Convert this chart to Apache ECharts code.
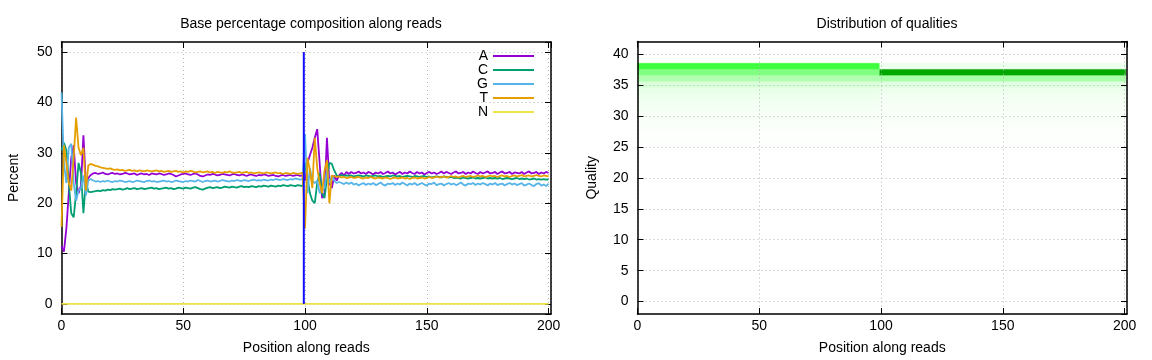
<!DOCTYPE html>
<html><head><meta charset="utf-8">
<script src="https://cdn.jsdelivr.net/npm/echarts@6/dist/echarts.min.js"></script>
<style>html,body{margin:0;padding:0;background:#fff}#c{width:1152px;height:360px}</style>
</head><body><div id="c"></div>
<script>
// ---------------- DATA ----------------
const baseNames = ['A', 'C', 'G', 'T', 'N'];
// percent per position 0..200
const pctA = [
 11.5,10.4,15.0,22.0,29.0,31.5,24.0,22.0,23.5,33.5,24.0,25.0,
 25.6,25.9,26.0,25.8,25.9,26.1,25.8,25.7,25.9,26.0,
 25.8,25.9,25.7,25.8,26.0,25.9,25.7,25.8,25.9,25.6,
 25.8,25.9,25.7,25.8,25.6,25.9,25.8,25.7,25.9,25.8,
 25.6,25.7,25.9,25.8,25.6,25.3,25.5,25.7,25.8,25.9,
 25.7,25.6,25.8,25.9,25.7,25.4,25.3,25.5,25.7,25.6,
 25.8,25.7,25.5,25.6,25.8,25.7,25.6,25.5,25.7,25.8,
 25.6,25.5,25.7,25.6,25.4,25.6,25.7,25.5,25.4,25.6,
 25.5,25.7,25.6,25.4,25.5,25.6,25.4,25.3,25.5,25.6,
 25.4,25.5,25.6,25.4,25.5,25.6,25.4,25.5,
 24.5,28.0,29.5,31.0,33.0,34.7,28.0,21.0,22.0,33.0,24.0,23.0,25.5,24.5,25.5,26.0,25.5,26.2,
 25.8,26.2,25.9,26.0,26.3,25.9,26.1,25.8,26.2,26.0,
 25.7,26.1,25.9,26.2,25.8,26.0,26.3,25.9,26.1,25.7,
 26.0,26.2,25.8,26.1,25.9,26.3,26.0,25.8,26.2,25.9,
 26.1,25.7,26.0,26.2,25.9,26.1,25.8,26.0,26.3,25.9,
 26.2,26.0,25.8,26.1,26.3,25.9,26.0,26.2,25.8,26.1,
 25.9,26.3,26.0,25.8,26.2,25.9,26.1,26.3,25.9,26.0,
 26.2,25.8,26.1,26.3,25.9,26.0,26.2,25.8,26.1,26.0,
 25.9,26.2,25.8,26.1,26.3,25.9,26.0,26.2,25.8,26.1,
 25.9,26.2,26.0
];
const pctC = [
 30.5,32.0,30.5,24.0,18.0,17.2,22.0,28.0,26.0,18.0,24.5,22.3,
 22.2,22.3,22.4,22.5,22.4,22.6,22.5,22.7,22.6,22.8,
 22.7,22.8,22.9,22.7,22.8,23.0,22.8,22.9,23.0,22.8,
 22.9,23.0,22.8,22.9,23.0,23.1,22.9,23.0,22.8,22.9,
 23.0,23.1,22.9,23.0,22.8,22.9,23.1,23.0,22.9,23.1,
 23.0,22.9,23.1,23.2,23.0,22.8,22.7,22.9,23.1,23.2,
 23.0,23.1,23.2,23.0,23.1,23.3,23.2,23.1,23.3,23.2,
 23.1,23.3,23.4,23.2,23.3,23.2,23.4,23.3,23.2,23.4,
 23.3,23.5,23.4,23.3,23.5,23.4,23.3,23.5,23.4,23.6,
 23.5,23.4,23.6,23.5,23.4,23.6,23.5,23.4,
 28.0,25.0,22.0,20.5,20.0,24.0,26.0,22.0,21.0,25.0,28.0,27.8,26.5,25.5,25.3,25.6,25.4,25.5,
 25.4,25.5,25.3,25.4,25.5,25.4,25.3,25.5,25.4,25.3,
 25.4,25.5,25.3,25.4,25.2,25.3,25.4,25.3,25.5,25.4,
 25.3,25.4,25.2,25.3,25.4,25.3,25.2,25.4,25.3,25.2,
 25.3,25.4,25.2,25.3,25.1,25.2,25.3,25.2,25.1,25.3,
 25.2,25.1,25.2,25.0,25.1,25.0,24.9,25.1,25.0,24.9,
 25.0,25.1,24.9,25.0,24.9,25.0,25.1,24.9,25.0,24.9,
 25.0,24.9,25.0,24.8,24.9,25.0,24.9,24.8,24.9,25.0,
 24.8,24.9,24.8,24.9,24.7,24.8,24.9,24.7,24.8,24.7,
 24.8,24.7,24.7
];
const pctG = [
 42.0,28.0,24.0,31.0,31.8,24.0,20.5,22.5,23.0,25.5,21.5,24.5,
 24.8,24.5,24.3,24.4,24.2,24.4,24.3,24.5,24.3,24.2,
 24.4,24.3,24.5,24.4,24.2,24.3,24.4,24.2,24.3,24.5,
 24.4,24.3,24.2,24.4,24.5,24.3,24.4,24.2,24.3,24.4,
 24.5,24.3,24.4,24.2,24.3,24.5,24.4,24.3,24.2,24.4,
 24.3,24.5,24.4,24.3,24.6,24.4,24.2,24.4,24.5,24.3,
 24.4,24.5,24.3,24.4,24.6,24.5,24.4,24.3,24.5,24.4,
 24.6,24.5,24.4,24.6,24.5,24.4,24.6,24.7,24.5,24.6,
 24.5,24.7,24.6,24.5,24.7,24.6,24.8,24.7,24.6,24.8,
 24.7,24.6,24.8,24.7,24.9,24.8,24.7,24.8,
 33.8,22.0,27.0,24.5,24.0,24.5,22.0,22.5,23.0,26.5,24.0,25.5,24.5,24.0,24.2,24.0,23.8,24.1,
 23.8,24.1,23.7,23.9,23.5,23.8,24.0,23.6,23.9,23.7,
 24.0,23.6,23.8,24.1,23.7,23.5,23.9,23.8,24.0,23.6,
 23.9,23.7,24.1,23.8,23.5,23.9,23.7,24.0,23.6,23.8,
 24.0,23.7,23.5,23.9,23.8,24.1,23.6,23.8,23.9,23.5,
 23.8,24.0,23.7,23.9,23.6,23.8,24.1,23.7,23.5,23.9,
 23.8,24.0,23.6,23.9,23.7,24.0,23.8,23.5,23.9,23.7,
 24.0,23.6,23.8,23.9,23.5,23.8,24.0,23.7,23.9,23.6,
 23.8,24.0,23.5,23.7,23.9,23.6,23.4,23.8,24.0,23.5,
 23.7,23.4,23.9
];
const pctT = [
 15.3,31.5,28.0,24.0,22.5,29.0,37.0,31.0,29.5,31.0,22.5,27.5,
 27.8,27.6,27.4,27.3,27.1,27.0,26.9,26.8,26.9,26.7,
 26.6,26.7,26.5,26.6,26.4,26.5,26.6,26.4,26.5,26.3,
 26.5,26.4,26.3,26.5,26.4,26.3,26.4,26.5,26.3,26.4,
 26.2,26.3,26.4,26.2,26.3,26.4,26.2,26.3,26.1,26.3,
 26.2,26.4,26.3,26.1,26.2,26.3,26.1,26.2,26.3,26.1,
 26.2,26.0,26.2,26.1,26.0,26.2,26.1,26.3,26.1,26.0,
 26.1,26.2,26.0,26.1,26.2,26.0,26.1,25.9,26.0,26.1,
 26.0,25.9,26.1,26.0,25.9,26.0,26.1,25.9,26.0,25.8,
 26.0,25.9,25.8,26.0,25.9,25.8,25.9,26.0,
 15.0,29.0,26.5,23.0,33.0,27.0,24.0,22.0,26.5,28.5,20.0,25.5,25.3,25.2,25.3,25.1,25.2,25.0,
 25.1,25.2,25.0,25.1,25.2,25.0,24.9,25.1,25.0,25.2,
 25.0,24.9,25.1,25.0,24.9,25.1,25.0,24.8,25.0,25.1,
 24.9,25.0,25.1,24.9,25.0,24.8,25.0,25.1,24.9,25.0,
 25.1,24.9,25.0,25.2,25.0,25.1,25.3,25.1,25.2,25.3,
 25.1,25.2,25.4,25.2,25.3,25.1,25.3,25.4,25.2,25.3,
 25.4,25.2,25.3,25.5,25.3,25.4,25.2,25.3,25.5,25.3,
 25.4,25.2,25.4,25.5,25.3,25.4,25.2,25.4,25.5,25.3,
 25.4,25.6,25.3,25.4,25.5,25.3,25.4,25.6,25.4,25.3,
 25.5,25.4,25.3
];
const pctN = [
 0,0,0,0,0,0,0,0,0,0,0,0,0,0,0,0,0,0,0,0,
 0,0,0,0,0,0,0,0,0,0,0,0,0,0,0,0,0,0,0,0,
 0,0,0,0,0,0,0,0,0,0,0,0,0,0,0,0,0,0,0,0,
 0,0,0,0,0,0,0,0,0,0,0,0,0,0,0,0,0,0,0,0,
 0,0,0,0,0,0,0,0,0,0,0,0,0,0,0,0,0,0,0,0,
 0,0,0,0,0,0,0,0,0,0,0,0,0,0,0,0,0,0,0,0,
 0,0,0,0,0,0,0,0,0,0,0,0,0,0,0,0,0,0,0,0,
 0,0,0,0,0,0,0,0,0,0,0,0,0,0,0,0,0,0,0,0,
 0,0,0,0,0,0,0,0,0,0,0,0,0,0,0,0,0,0,0,0,
 0,0,0,0,0,0,0,0,0,0,0,0,0,0,0,0,0,0,0,0,
 0
];
// boundary between read 1 and read 2
const readBoundary = 99.5;
const boundarySpan = [0, 50];

// quality distribution: share of reads (%) per quality, per read segment
const qualityLevels = [39, 38, 37, 36, 35, 34, 33, 32, 31, 30, 29, 28, 27, 26, 25, 24];
const segmentSpans = [[-0.5, 99.5], [99.5, 200.5]];
const shareSeg1 = [0.3, 38, 25, 15.5, 7.5, 4.5, 3.5, 2.5, 2.0, 1.5, 1.2, 0.8, 0.5, 0.4, 0.2, 0.1];
const shareSeg2 = [0.2, 3.5, 78, 17, 6.0, 3.5, 2.5, 2.0, 1.5, 1.2, 0.9, 0.6, 0.4, 0.3, 0.2, 0.1];

// ---------------- CHART ----------------
const FONT = 'Liberation Sans';
const baseColors = ['#9400d3', '#009e73', '#56b4e9', '#e69f00', '#f0e442'];
const pctSeries = [pctA, pctC, pctG, pctT, pctN];

const gridLine = { show: true, lineStyle: { color: '#b4b4b4', type: [1, 3], width: 1 } };
const axisText = { color: '#000', fontFamily: FONT, fontSize: 14 };
const frameLine = { show: true, onZero: false, lineStyle: { color: '#000', width: 1.5 } };
const tickIn = { show: true, inside: true, length: 6, lineStyle: { color: '#000', width: 1 } };

function xAxes(gridIndex) {
  return [
    { type: 'value', gridIndex, position: 'bottom', min: 0, max: 201, interval: 50,
      axisLine: frameLine, axisTick: tickIn, splitLine: gridLine,
      axisLabel: Object.assign({ margin: 5, showMaxLabel: false }, axisText),
      name: 'Position along reads', nameLocation: 'middle', nameGap: 27, nameTextStyle: axisText },
    { type: 'value', gridIndex, position: 'top', min: 0, max: 201, interval: 50,
      axisLine: frameLine, axisTick: tickIn, splitLine: { show: false }, axisLabel: { show: false } }
  ];
}
function yAxes(gridIndex, max, splitNumber, name, nameGap) {
  return [
    { type: 'value', gridIndex, position: 'left', min: -2, max, splitNumber,
      axisLine: frameLine, axisTick: tickIn, splitLine: gridLine,
      axisLabel: Object.assign({ margin: 9, showMinLabel: false, showMaxLabel: false }, axisText),
      name, nameLocation: 'middle', nameGap, nameRotate: 90, nameTextStyle: axisText },
    { type: 'value', gridIndex, position: 'right', min: -2, max, splitNumber,
      axisLine: frameLine, axisTick: tickIn, splitLine: { show: false }, axisLabel: { show: false } }
  ];
}

const series = [];
baseNames.forEach((b, i) => {
  series.push({
    name: b, type: 'line', xAxisIndex: 0, yAxisIndex: 0,
    data: pctSeries[i].map((v, k) => [k, v]),
    showSymbol: false, symbol: 'none', lineStyle: { width: 1.8, color: baseColors[i] },
    itemStyle: { color: baseColors[i] }, z: 2
  });
});
series.push({
  name: 'boundary', type: 'line', xAxisIndex: 0, yAxisIndex: 0,
  data: boundarySpan.map(v => [readBoundary, v]),
  showSymbol: false, symbol: 'none', lineStyle: { width: 2, color: '#1010ff' }, z: 4
});

const cells = [];
[shareSeg1, shareSeg2].forEach((shares, s) => {
  qualityLevels.forEach((q, r) => {
    cells.push([segmentSpans[s][0], segmentSpans[s][1], q, shares[r]]);
  });
});
series.push({
  name: 'quality', type: 'custom', xAxisIndex: 2, yAxisIndex: 2, z: -1,
  data: cells, encode: { x: [0, 1], y: 2 },
  renderItem: function (params, api) {
    const p0 = api.coord([api.value(0), api.value(2) + 0.5]);
    const p1 = api.coord([api.value(1), api.value(2) - 0.5]);
    const cs = params.coordSys;
    const rect = echarts.graphic.clipRectByRect(
      { x: p0[0], y: p0[1], width: p1[0] - p0[0], height: p1[1] - p0[1] },
      { x: cs.x, y: cs.y, width: cs.width, height: cs.height });
    if (!rect) return;
    const c = api.visual('color');
    return { type: 'rect', shape: rect, style: { fill: c, stroke: c, lineWidth: 0.5 } };
  }
});

const option = {
  animation: false,
  backgroundColor: '#fff',
  textStyle: { fontFamily: FONT },
  title: [
    { text: 'Base percentage composition along reads', left: 306, top: 12, textAlign: 'center',
      textStyle: { fontFamily: FONT, fontSize: 14, fontWeight: 'normal', color: '#000' } },
    { text: 'Distribution of qualities', left: 882, top: 12, textAlign: 'center',
      textStyle: { fontFamily: FONT, fontSize: 14, fontWeight: 'normal', color: '#000' } }
  ],
  legend: {
    data: baseNames, orient: 'vertical', right: 618, top: 49, align: 'right',
    icon: 'rect', itemWidth: 41, itemHeight: 2, itemGap: 0, padding: 0,
    textStyle: { fontFamily: FONT, fontSize: 14, color: '#000', lineHeight: 14 },
    selectedMode: false
  },
  visualMap: {
    show: false, type: 'continuous', seriesIndex: 6, dimension: 3, min: 0, max: 100,
    inRange: { color: ['#ffffff', '#00ff00', '#006400'] }
  },
  grid: [
    { left: 61.5, top: 42, width: 489.5, height: 272 },
    { left: 637.5, top: 41.6, width: 489.5, height: 272.8 }
  ],
  xAxis: [].concat(xAxes(0), xAxes(1)),
  yAxis: [].concat(yAxes(0, 52, 5, 'Percent', 40), yAxes(1, 42, 9, 'Quality', 38)),
  series
};

const chart = echarts.init(document.getElementById('c'), null, { renderer: 'canvas' });
chart.setOption(option);
</script>
</body></html>
